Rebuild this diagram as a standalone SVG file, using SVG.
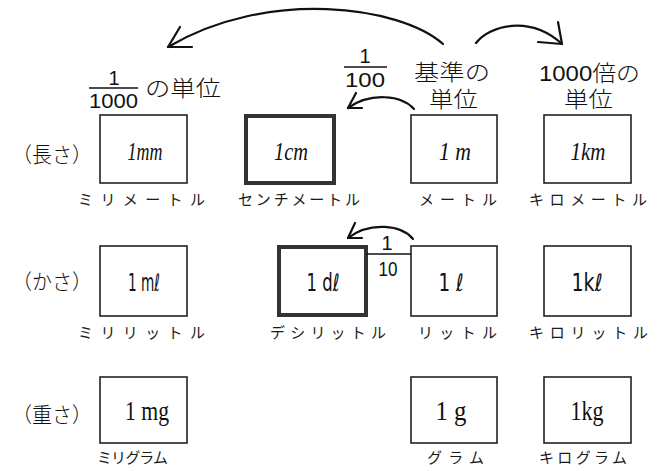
<svg xmlns="http://www.w3.org/2000/svg" width="668" height="471" viewBox="0 0 668 471">
  <style>
    .box { fill: #fff; stroke: #222; stroke-width: 1.6; }
    .box.base-step { stroke: #333; stroke-width: 4; }
    .unit-i { font-family: "Liberation Serif", serif; font-style: italic; font-size: 26px; fill: #111; }
    .unit-s { font-family: "DejaVu Sans", "Liberation Sans", sans-serif; font-size: 24px; fill: #111; }
    .unit-r { font-family: "Liberation Serif", serif; font-size: 27px; fill: #111; }
    .name { font-family: "Noto Sans CJK JP", sans-serif; font-size: 15px; fill: #1a1a1a; }
    .row { font-family: "Noto Sans CJK JP", sans-serif; font-size: 21px; font-weight: 300; fill: #111; }
    .head { font-family: "Liberation Sans", "Noto Sans CJK JP", sans-serif; font-size: 22px; font-weight: 300; fill: #111; }
    .num { font-family: "Liberation Sans Narrow", "Liberation Sans", sans-serif; font-size: 20px; fill: #111; }
    .arc { fill: none; stroke: #111; stroke-width: 2.2; stroke-linecap: round; stroke-linejoin: round; }
    .bar { stroke: #111; stroke-width: 1.6; }
  </style>

  <!-- header labels -->
  <g id="header-thousandth">
    <text class="num" x="114" y="85" text-anchor="middle">1</text>
    <line class="bar" x1="89" y1="88" x2="138" y2="88"/>
    <text class="num" x="113.5" y="108" text-anchor="middle" textLength="49" lengthAdjust="spacingAndGlyphs">1000</text>
    <text class="head" x="145" y="96" textLength="76" lengthAdjust="spacingAndGlyphs">の単位</text>
  </g>
  <g id="header-hundredth">
    <text class="num" x="365" y="63" text-anchor="middle">1</text>
    <line class="bar" x1="344" y1="67" x2="387" y2="67"/>
    <text class="num" x="365" y="87" text-anchor="middle" textLength="40" lengthAdjust="spacingAndGlyphs">100</text>
  </g>
  <g id="header-base">
    <text class="head" x="414" y="80" textLength="76" lengthAdjust="spacingAndGlyphs">基準の</text>
    <text class="head" x="429" y="107" textLength="49" lengthAdjust="spacingAndGlyphs">単位</text>
  </g>
  <g id="header-thousandfold">
    <text class="head" x="539" y="81" textLength="101" lengthAdjust="spacingAndGlyphs">1000倍の</text>
    <text class="head" x="564" y="107" textLength="49" lengthAdjust="spacingAndGlyphs">単位</text>
  </g>

  <!-- row labels -->
  <text class="row" x="12" y="162" textLength="80" lengthAdjust="spacingAndGlyphs">（長さ）</text>
  <text class="row" x="12" y="289" textLength="80" lengthAdjust="spacingAndGlyphs">（かさ）</text>
  <text class="row" x="12" y="422" textLength="80" lengthAdjust="spacingAndGlyphs">（重さ）</text>

  <!-- length row -->
  <g id="mm">
    <rect class="box" x="100" y="115" width="87" height="68"/>
    <text class="unit-i" x="145" y="160" text-anchor="middle" textLength="35" lengthAdjust="spacingAndGlyphs">1mm</text>
    <text class="name" x="78" y="205" textLength="127" lengthAdjust="spacing">ミリメートル</text>
  </g>
  <g id="cm">
    <rect class="box base-step" x="246" y="116" width="88" height="67"/>
    <text class="unit-i" x="291" y="160" text-anchor="middle" textLength="34" lengthAdjust="spacingAndGlyphs">1cm</text>
    <text class="name" x="238" y="205" textLength="122" lengthAdjust="spacing">センチメートル</text>
  </g>
  <g id="m">
    <rect class="box" x="411" y="115" width="86" height="68"/>
    <text class="unit-i" x="455" y="160" text-anchor="middle" textLength="32" lengthAdjust="spacingAndGlyphs">1 m</text>
    <text class="name" x="419" y="205" textLength="78" lengthAdjust="spacing">メートル</text>
  </g>
  <g id="km">
    <rect class="box" x="544" y="115" width="87" height="68"/>
    <text class="unit-i" x="588" y="160" text-anchor="middle" textLength="35" lengthAdjust="spacingAndGlyphs">1km</text>
    <text class="name" x="529" y="205" textLength="118" lengthAdjust="spacing">キロメートル</text>
  </g>

  <!-- volume row -->
  <g id="ml">
    <rect class="box" x="100" y="246" width="87" height="70"/>
    <text class="unit-s" x="144" y="291" text-anchor="middle" textLength="32" lengthAdjust="spacingAndGlyphs">1 mℓ</text>
    <text class="name" x="78" y="338" textLength="127" lengthAdjust="spacing">ミリリットル</text>
  </g>
  <g id="dl">
    <rect class="box base-step" x="279" y="247" width="87" height="68"/>
    <text class="unit-s" x="323" y="291" text-anchor="middle" textLength="33" lengthAdjust="spacingAndGlyphs">1 dℓ</text>
    <text class="name" x="270" y="338" textLength="116" lengthAdjust="spacing">デシリットル</text>
  </g>
  <g id="l">
    <rect class="box" x="411" y="246" width="86" height="70"/>
    <text class="unit-s" x="451" y="291" text-anchor="middle" textLength="25" lengthAdjust="spacingAndGlyphs">1 ℓ</text>
    <text class="name" x="418" y="338" textLength="79" lengthAdjust="spacing">リットル</text>
  </g>
  <g id="kl">
    <rect class="box" x="544" y="246" width="87" height="70"/>
    <text class="unit-s" x="587" y="291" text-anchor="middle" textLength="31" lengthAdjust="spacingAndGlyphs">1kℓ</text>
    <text class="name" x="529" y="338" textLength="119" lengthAdjust="spacing">キロリットル</text>
  </g>

  <!-- weight row -->
  <g id="mg">
    <rect class="box" x="100" y="377" width="87" height="66"/>
    <text class="unit-r" x="147" y="420" text-anchor="middle" textLength="44" lengthAdjust="spacingAndGlyphs">1 mg</text>
    <text class="name" x="97" y="463" textLength="71" lengthAdjust="spacing">ミリグラム</text>
  </g>
  <g id="g">
    <rect class="box" x="411" y="377" width="86" height="66"/>
    <text class="unit-r" x="451" y="420" text-anchor="middle" textLength="31" lengthAdjust="spacingAndGlyphs">1 g</text>
    <text class="name" x="427" y="463" textLength="57" lengthAdjust="spacing">グラム</text>
  </g>
  <g id="kg">
    <rect class="box" x="544" y="377" width="87" height="66"/>
    <text class="unit-r" x="587" y="420" text-anchor="middle" textLength="33" lengthAdjust="spacingAndGlyphs">1kg</text>
    <text class="name" x="539" y="463" textLength="88" lengthAdjust="spacing">キログラム</text>
  </g>

  <!-- connectors: curved arrows with open heads -->
  <g id="connectors">
    <path class="arc" d="M443,44 C400,6 268,-12 168,47"/>
    <polyline class="arc" points="180,27 168,47 192,47"/>

    <path class="arc" d="M476,43 C490,25 530,15 562,44"/>
    <polyline class="arc" points="558,22 562,44 538,42"/>

    <path class="arc" d="M414,109 C402,95 370,92 348,108"/>
    <polyline class="arc" points="356,93 348,108 362,108"/>

    <path class="arc" d="M413,239 C402,225 370,221 348,238"/>
    <polyline class="arc" points="355,223 348,238 362,238"/>

    <line class="bar" x1="366" y1="254" x2="411" y2="254"/>
    <text class="num" x="387" y="250" text-anchor="middle">1</text>
    <text class="num" x="388" y="276" text-anchor="middle" textLength="19" lengthAdjust="spacingAndGlyphs">10</text>
  </g>
</svg>
